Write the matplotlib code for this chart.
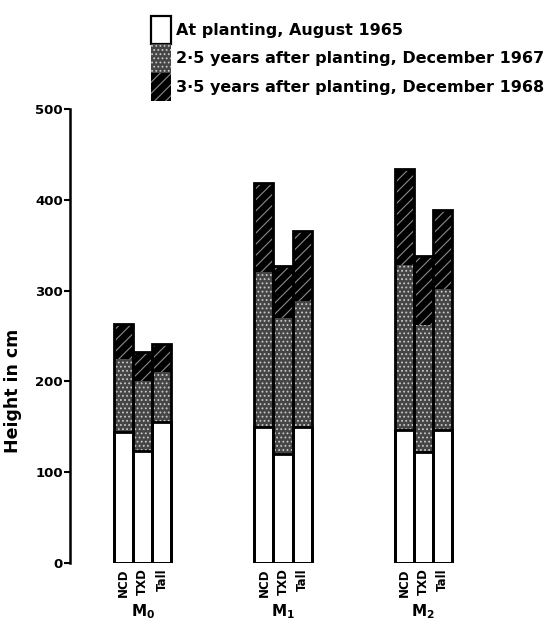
import numpy as np
import matplotlib
matplotlib.use('Agg')
import matplotlib.pyplot as plt
from matplotlib.patches import Patch

plt.rcParams['font.family'] = ['DejaVu Sans']
plt.rcParams['font.weight'] = 'bold'
plt.rcParams['hatch.linewidth'] = 0.8

# 데이터 (cm, 누적 높이)
groups = [r'$\mathbf{M_0}$', r'$\mathbf{M_1}$', r'$\mathbf{M_2}$']
types = ['NCD', 'TXD', 'Tall']
planting_1965 = [[144, 123, 155], [150, 120, 150], [146, 122, 146]]
dec_1967 = [[225, 200, 210], [321, 270, 288], [328, 262, 302]]
dec_1968 = [[263, 232, 241], [418, 327, 366], [434, 338, 389]]
legend_labels = ['At planting, August 1965',
                 '2·5 years after planting, December 1967',
                 '3·5 years after planting, December 1968']

fig = plt.figure(figsize=(5.52, 6.2), dpi=100)
ax = fig.add_axes([70/552, 57/620, 482/552, 454/620])

width = 0.136
offsets = np.array([-1, 0, 1]) * width
gx = np.arange(len(groups))

for g in range(len(groups)):
    x = gx[g] + offsets
    low = np.array(planting_1965[g])
    mid = np.array(dec_1967[g])
    top = np.array(dec_1968[g])
    ax.bar(x, low, width, color='white', linewidth=0)
    ax.bar(x, mid - low, width, bottom=low, color='#454545',
           edgecolor='#c8c8c8', hatch='....', linewidth=0)
    ax.bar(x, top - mid, width, bottom=mid, color='black',
           edgecolor='#8a8a8a', hatch='///', linewidth=0)
    # 외곽선
    ax.bar(x, low, width, fill=False, edgecolor='black', linewidth=2)
    ax.bar(x, top, width, fill=False, edgecolor='black', linewidth=2)

ax.set_xlim(-0.52, 2.92)
ax.set_ylim(0, 500)
for s in ['top', 'right', 'bottom']:
    ax.spines[s].set_visible(False)
ax.spines['left'].set_linewidth(1.8)
ax.set_yticks([0, 100, 200, 300, 400, 500])
ax.tick_params(axis='y', length=4, width=1.5, labelsize=9.5, pad=1)
for lab in ax.get_yticklabels():
    lab.set_fontweight('bold')

xt = np.concatenate([gx[g] + offsets for g in range(len(groups))])
ax.set_xticks(xt)
ax.set_xticklabels(types * len(groups), rotation=90, fontsize=8.5,
                   fontweight='bold')
ax.tick_params(axis='x', length=0, pad=4)
for g in range(len(groups)):
    ax.text(gx[g], -54, groups[g], ha='center', va='center', fontsize=11)

ax.set_ylabel('Height in cm', fontsize=12.5, fontweight='bold')
ax.yaxis.set_label_coords(-0.1, 0.38)

handles = [Patch(facecolor='white', edgecolor='black', linewidth=1.6),
           Patch(facecolor='#454545', edgecolor='#c8c8c8', hatch='....', linewidth=0),
           Patch(facecolor='black', edgecolor='#8a8a8a', hatch='///', linewidth=0)]
fig.legend(handles, legend_labels, loc='upper left',
           bbox_to_anchor=(151/552, 1 - 16/620), frameon=False,
           fontsize=11.5, handlelength=1.25, handleheight=2.35,
           labelspacing=0, borderpad=0, borderaxespad=0, handletextpad=0.3)

fig.savefig('out.png', dpi=100)
